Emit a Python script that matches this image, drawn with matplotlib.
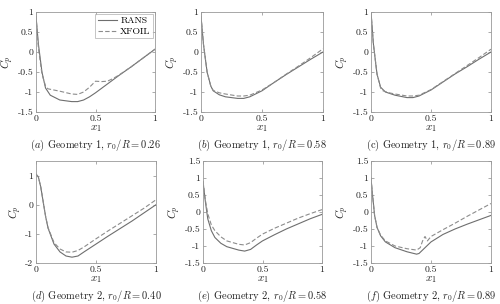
import numpy as np
import matplotlib
matplotlib.use('Agg')
import matplotlib.pyplot as plt

plt.rcParams['font.family'] = 'serif'
plt.rcParams['font.serif'] = ['cmr10', 'DejaVu Serif']
plt.rcParams['mathtext.fontset'] = 'cm'
plt.rcParams['axes.unicode_minus'] = False
plt.rcParams['axes.formatter.use_mathtext'] = True

# (a) Geometry 1, r0/R = 0.26
xa_rans = [0, 0.02, 0.05, 0.08, 0.12, 0.2, 0.3, 0.35, 0.4, 0.45, 0.5, 0.6, 0.7, 0.8, 0.9, 1.0]
ya_rans = [0.9, 0.2, -0.5, -0.9, -1.08, -1.2, -1.24, -1.24, -1.2, -1.12, -1.02, -0.8, -0.58, -0.37, -0.15, 0.07]
xa_xfoil = [0, 0.02, 0.05, 0.08, 0.1, 0.2, 0.3, 0.35, 0.4, 0.45, 0.5, 0.55, 0.6, 0.65, 0.7, 0.8, 0.9, 1.0]
ya_xfoil = [0.9, 0.1, -0.55, -0.85, -0.92, -0.98, -1.05, -1.06, -1.0, -0.88, -0.73, -0.74, -0.73, -0.66, -0.57, -0.37, -0.15, 0.07]

# (b) Geometry 1, r0/R = 0.58
xb_rans = [0, 0.02, 0.05, 0.08, 0.1, 0.15, 0.2, 0.3, 0.35, 0.4, 0.5, 0.6, 0.7, 0.8, 0.9, 1.0]
yb_rans = [0.9, 0.2, -0.5, -0.85, -0.97, -1.07, -1.12, -1.16, -1.16, -1.12, -0.97, -0.76, -0.56, -0.37, -0.18, 0.0]
xb_xfoil = [0, 0.02, 0.05, 0.08, 0.1, 0.15, 0.2, 0.3, 0.35, 0.4, 0.5, 0.6, 0.7, 0.8, 0.9, 1.0]
yb_xfoil = [0.9, 0.2, -0.5, -0.85, -0.96, -1.02, -1.05, -1.1, -1.1, -1.08, -0.95, -0.76, -0.55, -0.35, -0.14, 0.08]

# (c) Geometry 1, r0/R = 0.89
xc_rans = [0, 0.02, 0.05, 0.08, 0.12, 0.2, 0.3, 0.35, 0.4, 0.5, 0.6, 0.7, 0.8, 0.9, 1.0]
yc_rans = [1.0, 0.2, -0.55, -0.88, -1.0, -1.08, -1.14, -1.14, -1.1, -0.95, -0.75, -0.55, -0.37, -0.18, 0.0]
xc_xfoil = [0, 0.02, 0.05, 0.08, 0.1, 0.15, 0.2, 0.3, 0.35, 0.4, 0.5, 0.6, 0.7, 0.8, 0.9, 1.0]
yc_xfoil = [1.0, 0.2, -0.55, -0.9, -0.97, -1.02, -1.05, -1.1, -1.1, -1.08, -0.94, -0.74, -0.54, -0.34, -0.14, 0.07]

# (d) Geometry 2, r0/R = 0.40
xd_rans = [0, 0.02, 0.04, 0.06, 0.08, 0.1, 0.15, 0.2, 0.25, 0.3, 0.35, 0.4, 0.5, 0.6, 0.7, 0.8, 0.9, 1.0]
yd_rans = [1.05, 0.95, 0.6, 0.1, -0.4, -0.8, -1.35, -1.62, -1.76, -1.8, -1.76, -1.62, -1.35, -1.08, -0.82, -0.56, -0.28, 0.0]
xd_xfoil = [0, 0.02, 0.04, 0.06, 0.08, 0.1, 0.15, 0.2, 0.25, 0.3, 0.35, 0.4, 0.5, 0.6, 0.7, 0.8, 0.9, 1.0]
yd_xfoil = [1.05, 0.95, 0.6, 0.1, -0.4, -0.78, -1.3, -1.52, -1.62, -1.63, -1.57, -1.45, -1.17, -0.9, -0.64, -0.38, -0.12, 0.17]

# (e) Geometry 2, r0/R = 0.58
xe_rans = [0, 0.02, 0.04, 0.07, 0.1, 0.15, 0.2, 0.3, 0.35, 0.4, 0.45, 0.5, 0.6, 0.7, 0.8, 0.9, 1.0]
ye_rans = [0.9, 0.3, -0.2, -0.55, -0.75, -0.92, -1.02, -1.12, -1.15, -1.1, -0.97, -0.85, -0.67, -0.5, -0.35, -0.2, -0.07]
xe_xfoil = [0, 0.02, 0.04, 0.07, 0.1, 0.15, 0.2, 0.3, 0.35, 0.4, 0.45, 0.5, 0.6, 0.7, 0.8, 0.9, 1.0]
ye_xfoil = [0.9, 0.35, -0.05, -0.38, -0.55, -0.73, -0.85, -0.95, -0.97, -0.9, -0.77, -0.65, -0.48, -0.33, -0.18, -0.05, 0.07]

# (f) Geometry 2, r0/R = 0.89
xf_rans = [0, 0.01, 0.03, 0.05, 0.08, 0.12, 0.2, 0.3, 0.38, 0.4, 0.45, 0.5, 0.6, 0.7, 0.8, 0.9, 1.0]
yf_rans = [1.0, 0.6, -0.1, -0.45, -0.7, -0.88, -1.05, -1.17, -1.24, -1.22, -1.05, -0.88, -0.66, -0.5, -0.36, -0.23, -0.1]
xf_xfoil = [0, 0.01, 0.03, 0.05, 0.08, 0.12, 0.2, 0.3, 0.38, 0.41, 0.43, 0.45, 0.47, 0.5, 0.6, 0.7, 0.8, 0.9, 1.0]
yf_xfoil = [1.0, 0.6, -0.1, -0.45, -0.68, -0.85, -1.0, -1.08, -1.12, -1.05, -0.85, -0.72, -0.85, -0.72, -0.52, -0.33, -0.13, 0.06, 0.25]

captions = [r'($a$) Geometry 1, $r_0/R = 0.26$', r'($b$) Geometry 1, $r_0/R = 0.58$',
            r'(c) Geometry 1, $r_0/R = 0.89$', r'($d$) Geometry 2, $r_0/R = 0.40$',
            r'($e$) Geometry 2, $r_0/R = 0.58$', r'($f$) Geometry 2, $r_0/R = 0.89$']

panels = [(xa_rans, ya_rans, xa_xfoil, ya_xfoil), (xb_rans, yb_rans, xb_xfoil, yb_xfoil),
          (xc_rans, yc_rans, xc_xfoil, yc_xfoil), (xd_rans, yd_rans, xd_xfoil, yd_xfoil),
          (xe_rans, ye_rans, xe_xfoil, ye_xfoil), (xf_rans, yf_rans, xf_xfoil, yf_xfoil)]

ylims = [(-1.5, 1), (-1.5, 1), (-1.5, 1), (-2, 1.5), (-1.5, 1.5), (-1.5, 1.5)]
yticks = [[-1.5, -1, -0.5, 0, 0.5, 1]] * 3 + [[-2, -1, 0, 1], [-1.5, -1, -0.5, 0, 0.5, 1, 1.5], [-1.5, -1, -0.5, 0, 0.5, 1, 1.5]]

# axes boxes in pixels: left, right, top, bottom
boxes = [(36, 155, 12, 112), (201, 323, 12, 112), (371, 491, 12, 112),
         (36, 156, 161, 263), (203, 322, 161, 263), (371, 491, 161, 263)]

W, H = 500, 304
fig = plt.figure(figsize=(5, 3.04), dpi=100)

def fmt(v):
	if v == int(v):
		return str(int(v))
	return str(v)

for i, (xr, yr, xx, yx) in enumerate(panels):
	l, r, t, b = boxes[i]
	ax = fig.add_axes([l / W, 1 - b / H, (r - l) / W, (b - t) / H])
	ax.plot(xr, yr, color='#6e6e6e', lw=0.8, label='RANS')
	ax.plot(xx, yx, color='#8c8c8c', lw=0.8, ls=(0, (4, 2)), label='XFOIL')
	ax.set_xlim(0, 1)
	ax.set_ylim(*ylims[i])
	ax.set_xticks([0, 0.5, 1])
	ax.set_xticklabels(['0', '0.5', '1'])
	ax.set_yticks(yticks[i])
	ax.set_yticklabels([fmt(v) for v in yticks[i]])
	ax.tick_params(direction='in', length=2, width=0.5, labelsize=7, top=True, right=True,
	               colors='#888888', labelcolor='#222222', pad=2)
	for s in ax.spines.values():
		s.set_color('#999999')
		s.set_linewidth(0.6)
	ax.set_xlabel(r'$x_1$', fontsize=8, labelpad=0, color='#222222')
	ax.set_ylabel(r'$C_p$', fontsize=8, labelpad=1, color='#222222')
	cx = (l + r) / 2 / W
	cy = 1 - (b + 33) / H
	fig.text(cx, cy, captions[i], ha='center', va='center', fontsize=7.5, color='#222222')
	if i == 0:
		leg = ax.legend(loc='upper right', fontsize=7, frameon=True, fancybox=False,
		                handlelength=2.0, handletextpad=0.3, borderpad=0.25, labelspacing=0.2,
		                borderaxespad=0.2)
		leg.get_frame().set_edgecolor('#999999')
		leg.get_frame().set_linewidth(0.5)

fig.savefig('out.png', dpi=100)
